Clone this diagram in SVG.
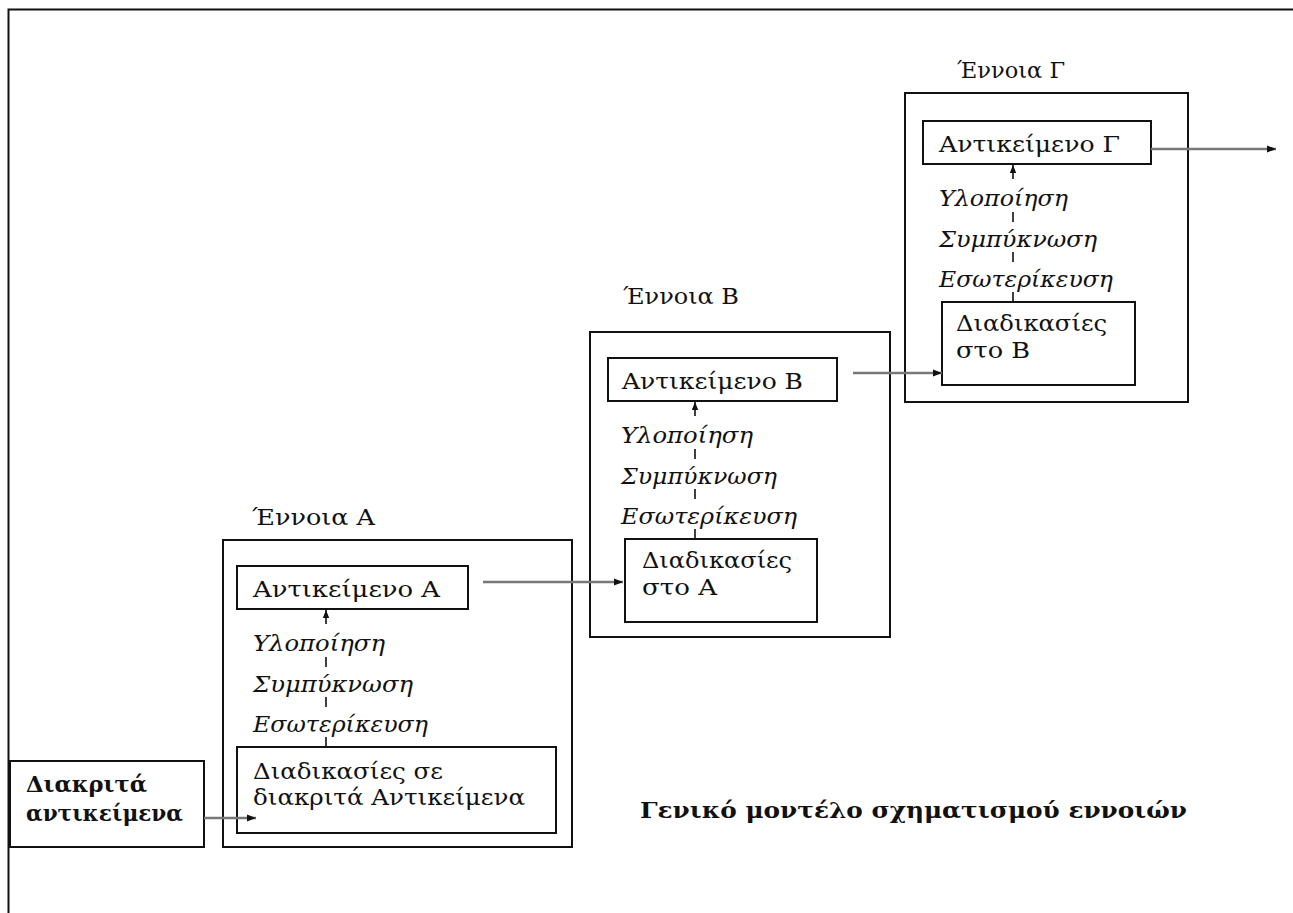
<svg xmlns="http://www.w3.org/2000/svg" width="1293" height="913" viewBox="0 0 1293 913">
  <defs>
    <style>
      .frame { fill: none; stroke: #111; stroke-width: 2; }
      .box { fill: #fff; stroke: #111; stroke-width: 2; }
      .t { font-family: "DejaVu Serif", "Liberation Serif", serif; font-size: 23px; fill: #111; }
      .it { font-style: italic; }
      .b { font-weight: bold; }
      .flow { fill: none; stroke: #777; stroke-width: 2.5; }
      .step { fill: none; stroke: #111; stroke-width: 1.6; }
    </style>
    <marker id="head" viewBox="0 0 10 10" refX="10" refY="5" markerWidth="11" markerHeight="9" markerUnits="userSpaceOnUse" orient="auto">
      <path d="M0,1 L10,5 L0,9 z" fill="#111"/>
    </marker>
    <marker id="tip" viewBox="0 0 10 10" refX="10" refY="5" markerWidth="9" markerHeight="8" markerUnits="userSpaceOnUse" orient="auto">
      <path d="M0,1 L10,5 L0,9 z" fill="#111"/>
    </marker>
  </defs>

  <rect width="1293" height="913" fill="#fff"/>

  <!-- page frame: only the top and left edges fall inside the view -->
  <path class="frame" d="M8.5 913 V9.5 H1293"/>

  <!-- input node -->
  <g id="discrete-objects">
    <rect class="box" x="10" y="761" width="194" height="86"/>
    <text class="t b" x="26" y="792" textLength="121" lengthAdjust="spacingAndGlyphs">Διακριτά</text>
    <text class="t b" x="26" y="821" textLength="157" lengthAdjust="spacingAndGlyphs">αντικείμενα</text>
  </g>

  <!-- concept A -->
  <g id="concept-a">
    <text class="t" x="252" y="525" textLength="123" lengthAdjust="spacingAndGlyphs">Έννοια Α</text>
    <rect class="box" x="223" y="540" width="349" height="307"/>
    <rect class="box" x="237" y="566" width="231" height="43"/>
    <text class="t" x="253" y="597" textLength="187" lengthAdjust="spacingAndGlyphs">Αντικείμενο Α</text>
    <text class="t it" x="253" y="651" textLength="132" lengthAdjust="spacingAndGlyphs">Υλοποίηση</text>
    <text class="t it" x="253" y="692" textLength="160" lengthAdjust="spacingAndGlyphs">Συμπύκνωση</text>
    <text class="t it" x="253" y="732" textLength="175" lengthAdjust="spacingAndGlyphs">Εσωτερίκευση</text>
    <rect class="box" x="237" y="747" width="319" height="86"/>
    <text class="t" x="253" y="779" textLength="190" lengthAdjust="spacingAndGlyphs">Διαδικασίες σε</text>
    <text class="t" x="253" y="805" textLength="272" lengthAdjust="spacingAndGlyphs">διακριτά Αντικείμενα</text>
  </g>

  <!-- concept B -->
  <g id="concept-b">
    <text class="t" x="623" y="304" textLength="116" lengthAdjust="spacingAndGlyphs">Έννοια Β</text>
    <rect class="box" x="590" y="332" width="300" height="305"/>
    <rect class="box" x="608" y="358" width="229" height="43"/>
    <text class="t" x="622" y="389" textLength="181" lengthAdjust="spacingAndGlyphs">Αντικείμενο Β</text>
    <text class="t it" x="621" y="443" textLength="132" lengthAdjust="spacingAndGlyphs">Υλοποίηση</text>
    <text class="t it" x="621" y="484" textLength="156" lengthAdjust="spacingAndGlyphs">Συμπύκνωση</text>
    <text class="t it" x="621" y="524" textLength="176" lengthAdjust="spacingAndGlyphs">Εσωτερίκευση</text>
    <rect class="box" x="625" y="539" width="192" height="83"/>
    <text class="t" x="642" y="568" textLength="150" lengthAdjust="spacingAndGlyphs">Διαδικασίες</text>
    <text class="t" x="642" y="595" textLength="75" lengthAdjust="spacingAndGlyphs">στο Α</text>
  </g>

  <!-- concept Γ -->
  <g id="concept-c">
    <text class="t" x="957" y="78" textLength="108" lengthAdjust="spacingAndGlyphs">Έννοια Γ</text>
    <rect class="box" x="905" y="93" width="283" height="309"/>
    <rect class="box" x="923" y="121" width="228" height="43"/>
    <text class="t" x="939" y="152" textLength="181" lengthAdjust="spacingAndGlyphs">Αντικείμενο Γ</text>
    <text class="t it" x="939" y="206" textLength="129" lengthAdjust="spacingAndGlyphs">Υλοποίηση</text>
    <text class="t it" x="939" y="247" textLength="158" lengthAdjust="spacingAndGlyphs">Συμπύκνωση</text>
    <text class="t it" x="939" y="287" textLength="174" lengthAdjust="spacingAndGlyphs">Εσωτερίκευση</text>
    <rect class="box" x="942" y="302" width="193" height="83"/>
    <text class="t" x="956" y="331" textLength="151" lengthAdjust="spacingAndGlyphs">Διαδικασίες</text>
    <text class="t" x="956" y="358" textLength="74" lengthAdjust="spacingAndGlyphs">στο Β</text>
  </g>

  <!-- caption -->
  <g id="caption">
    <text class="t b" x="640" y="818" textLength="547" lengthAdjust="spacingAndGlyphs">Γενικό μοντέλο σχηματισμού εννοιών</text>
  </g>

  <!-- connectors -->
  <g id="connectors">
    <path class="flow" d="M204 818 H256" marker-end="url(#head)"/>
    <path class="flow" d="M483 582 H623" marker-end="url(#head)"/>
    <path class="flow" d="M853 373 H942" marker-end="url(#head)"/>
    <path class="flow" d="M1151 149 H1276" marker-end="url(#head)"/>
    <!-- upward steps from processes to object, visible between the labels -->
    <path class="step" d="M326 747 V737 M326 707 V697 M326 667 V657 M326 624 V610" marker-end="url(#tip)"/>
    <path class="step" d="M695 539 V529 M695 499 V489 M695 459 V449 M695 416 V402" marker-end="url(#tip)"/>
    <path class="step" d="M1013 302 V292 M1013 262 V252 M1013 222 V212 M1013 179 V165" marker-end="url(#tip)"/>
  </g>
</svg>
